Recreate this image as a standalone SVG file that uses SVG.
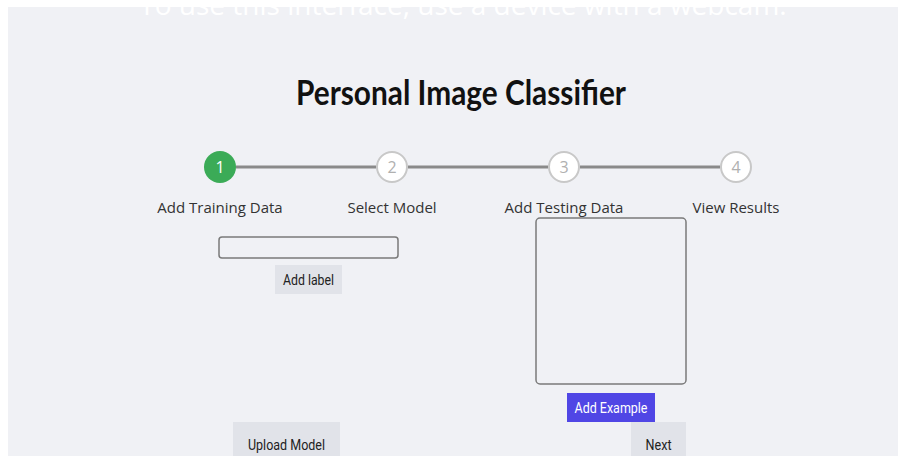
<svg xmlns="http://www.w3.org/2000/svg" width="898" height="456" viewBox="0 0 898 456">
  <style>
    .page { fill: #f0f1f5; }
    .step-label { font-family: "Open Sans", "Noto Sans", sans-serif; font-size: 15px; fill: #333333; text-anchor: middle; }
    .step-num { font-family: "Open Sans", "Noto Sans", sans-serif; font-size: 16px; text-anchor: middle; }
    .step-line { stroke: #8a8a8a; stroke-width: 3; }
    .step-open { fill: #ffffff; stroke: #c8c8c8; stroke-width: 2; }
    .btn { fill: #e1e3e9; }
    .btn-text { font-family: Roboto, "Liberation Sans", sans-serif; font-size: 14px; fill: #222222; text-anchor: middle; }
    .field { fill: #f0f1f5; stroke: #7a7a7a; stroke-width: 1.5; }
  </style>

  <rect x="0" y="0" width="898" height="456" fill="#ffffff"/>
  <rect class="page" x="8" y="7" width="890" height="449"/>

  <!-- webcam notice, white on the page -->
  <text x="463" y="15" font-family="'Open Sans', 'Noto Sans', sans-serif" font-size="28" fill="#ffffff" text-anchor="middle">To use this interface, use a device with a webcam.</text>

  <text x="461" y="105" font-family="Lato, 'Open Sans', sans-serif" font-weight="bold" font-size="35" fill="#111111" text-anchor="middle" textLength="330" lengthAdjust="spacingAndGlyphs">Personal Image Classifier</text>

  <!-- stepper track -->
  <g id="connectors">
    <line class="step-line" x1="236" y1="167" x2="376" y2="167"/>
    <line class="step-line" x1="408" y1="167" x2="548" y2="167"/>
    <line class="step-line" x1="580" y1="167" x2="720" y2="167"/>
  </g>

  <g id="step1">
    <circle cx="220" cy="167" r="16" fill="#3bab57"/>
    <text class="step-num" x="220" y="173" fill="#ffffff">1</text>
    <text class="step-label" x="220" y="213">Add Training Data</text>
  </g>
  <g id="step2">
    <circle class="step-open" cx="392" cy="167" r="15"/>
    <text class="step-num" x="392" y="173" fill="#b0b0b0">2</text>
    <text class="step-label" x="392" y="213">Select Model</text>
  </g>
  <g id="step3">
    <circle class="step-open" cx="564" cy="167" r="15"/>
    <text class="step-num" x="564" y="173" fill="#b0b0b0">3</text>
    <text class="step-label" x="564" y="213">Add Testing Data</text>
  </g>
  <g id="step4">
    <circle class="step-open" cx="736" cy="167" r="15"/>
    <text class="step-num" x="736" y="173" fill="#b0b0b0">4</text>
    <text class="step-label" x="736" y="213">View Results</text>
  </g>

  <g id="label-input">
    <rect class="field" x="219" y="237" width="179" height="21" rx="3"/>
  </g>
  <g id="add-label">
    <rect class="btn" x="275" y="265" width="67" height="29"/>
    <text class="btn-text" x="308.5" y="284.5" textLength="51" lengthAdjust="spacingAndGlyphs">Add label</text>
  </g>

  <g id="testing-preview">
    <rect class="field" x="536" y="218" width="150" height="166" rx="4"/>
  </g>
  <g id="add-example">
    <rect x="567" y="393" width="88" height="29" fill="#5046e5"/>
    <text class="btn-text" x="611" y="412.5" style="fill:#ffffff" textLength="73" lengthAdjust="spacingAndGlyphs">Add Example</text>
  </g>

  <g id="upload-model">
    <rect class="btn" x="233" y="422" width="107" height="40"/>
    <text class="btn-text" x="286.5" y="450" textLength="77" lengthAdjust="spacingAndGlyphs">Upload Model</text>
  </g>
  <g id="next">
    <rect class="btn" x="631" y="422" width="55" height="40"/>
    <text class="btn-text" x="658.5" y="450" textLength="26" lengthAdjust="spacingAndGlyphs">Next</text>
  </g>
</svg>
